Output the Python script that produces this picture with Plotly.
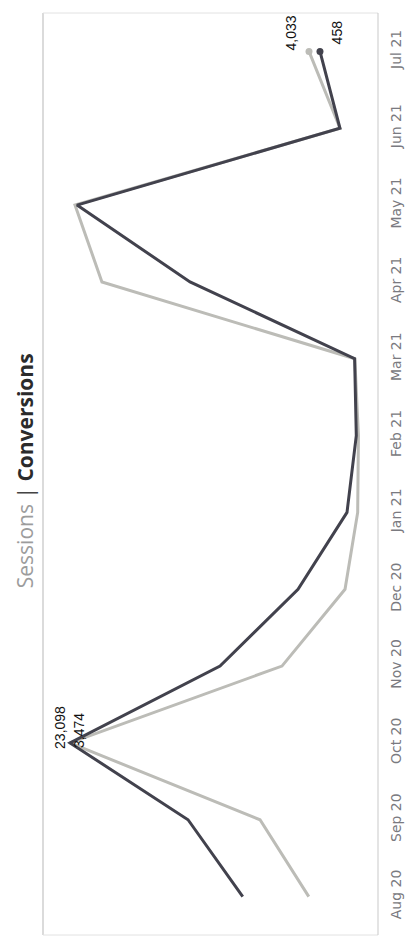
import plotly.graph_objects as go

# Monthly series
months = ["Aug 20", "Sep 20", "Oct 20", "Nov 20", "Dec 20", "Jan 21",
          "Feb 21", "Mar 21", "Apr 21", "May 21", "Jun 21", "Jul 21"]
sessions = [4050, 7940, 23098, 6190, 1160, 150, 90, 380, 20550, 22700, 1560, 4033]
conversions = [1390, 2050, 3474, 1664, 723, 132, 20, 40, 2026, 3390, 217, 458]

LIGHT = "#bcbcb7"
DARK = "#42424d"

fig = go.Figure()

fig.add_trace(go.Scatter(
    x=sessions, y=months, name="Sessions", mode="lines",
    line=dict(color=LIGHT, width=3), xaxis="x", yaxis="y",
))
fig.add_trace(go.Scatter(
    x=conversions, y=months, name="Conversions", mode="lines",
    line=dict(color=DARK, width=3), xaxis="x2", yaxis="y",
))
# end-point dots
fig.add_trace(go.Scatter(
    x=[sessions[-1]], y=[months[-1]], mode="markers",
    marker=dict(color=LIGHT, size=7), xaxis="x", yaxis="y", showlegend=False,
))
fig.add_trace(go.Scatter(
    x=[conversions[-1]], y=[months[-1]], mode="markers",
    marker=dict(color=DARK, size=7), xaxis="x2", yaxis="y", showlegend=False,
))

lab_font = dict(family="Arial, Liberation Sans, sans-serif", size=14, color="#111111")
peak = sessions.index(max(sessions))
annotations = [
    dict(x=sessions[peak], y=months[peak], xref="x", yref="y",
         text=f"{sessions[peak]:,}", textangle=-90, showarrow=False,
         font=lab_font, xshift=-10, yshift=15),
    dict(x=conversions[peak], y=months[peak], xref="x2", yref="y",
         text=f"{conversions[peak]:,}", textangle=-90, showarrow=False,
         font=lab_font, xshift=9, yshift=12),
    dict(x=sessions[-1], y=months[-1], xref="x", yref="y",
         text=f"{sessions[-1]:,}", textangle=-90, showarrow=False,
         font=lab_font, xshift=-18, yshift=18),
    dict(x=conversions[-1], y=months[-1], xref="x2", yref="y",
         text=f"{conversions[-1]:,}", textangle=-90, showarrow=False,
         font=lab_font, xshift=17, yshift=19),
    dict(x=-0.054, y=0.504, xref="paper", yref="paper",
         xanchor="center", yanchor="middle",
         text="<span style='color:#9c9c9c'>Sessions</span>"
              " <span style='color:#444444'>|</span> "
              "<b><span style='color:#2b2b2b'>Conversions</span></b>",
         textangle=-90, showarrow=False,
         font=dict(family="Open Sans, sans-serif", size=21)),
]

fig.update_layout(
    width=417, height=941,
    margin=dict(l=43, r=39, t=13, b=6),
    paper_bgcolor="white", plot_bgcolor="white",
    showlegend=False,
    xaxis=dict(range=[25252, -1471], visible=False, fixedrange=True),
    xaxis2=dict(range=[3800, -242], overlaying="x", visible=False, fixedrange=True),
    yaxis=dict(
        type="category", categoryorder="array", categoryarray=months,
        range=[-0.5, 11.5], side="right", tickangle=-90,
        ticks="", ticklabelstandoff=8, showgrid=False, zeroline=False,
        showline=False,
        tickfont=dict(family="DejaVu Sans, Verdana, sans-serif", size=14, color="#7a7a80"),
    ),
    annotations=annotations,
    shapes=[
        dict(type="line", xref="paper", yref="paper", x0=0, x1=0, y0=0, y1=1,
             line=dict(color="#cfcfcf", width=1.5)),
        dict(type="line", xref="paper", yref="paper", x0=0, x1=1, y0=1, y1=1,
             line=dict(color="#e2e2e2", width=1)),
        dict(type="line", xref="paper", yref="paper", x0=0, x1=1, y0=0, y1=0,
             line=dict(color="#e2e2e2", width=1)),
        dict(type="line", xref="paper", yref="paper", x0=1, x1=1, y0=0, y1=1,
             line=dict(color="#c9c9c9", width=1)),
    ],
)

fig.write_html("out.html")
